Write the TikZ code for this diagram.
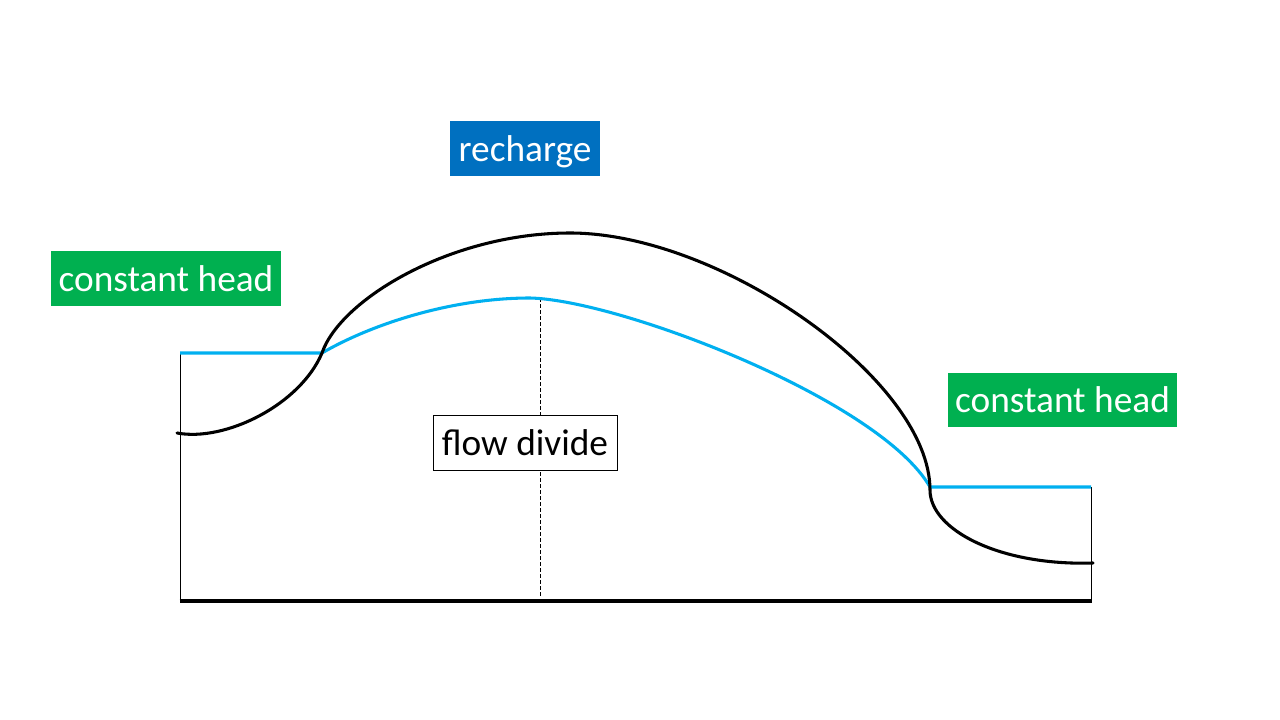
\documentclass[tikz,border=0pt]{standalone}
\usepackage{fontspec}
\setmainfont{Carlito}
\definecolor{chgreen}{HTML}{00B050}
\definecolor{rcblue}{HTML}{0070C0}
\definecolor{wtblue}{HTML}{00B0F0}
\begin{document}
\begin{tikzpicture}[x=0.75pt,y=-0.75pt,
  label box/.style={inner sep=0pt, text depth=0pt, text=white, font=\fontsize{28}{34}\selectfont},
  thin line/.style={line width=0.75pt, black},
  thick curve/.style={line width=2.3pt, black, line cap=round, line join=round},
  water curve/.style={line width=2.3pt, wtblue, line join=round}]
\useasboundingbox (0,0) rectangle (1280,720);
\fill[white] (0,0) rectangle (1280,720);
% frame
\draw[thin line] (180,353) -- (180,601);
\draw[thin line] (1091,487) -- (1091,601);
\draw[line width=2.3pt] (179.5,601) -- (1091.5,601);
% dashed flow divide line
\draw[thin line, dash pattern=on 3pt off 1.5pt] (540,298) -- (540,598);
% water table (blue)
\draw[water curve] (180,353) -- (322,353)
  .. controls (370,325) and (450,298) .. (530,298)
  .. controls (620,300) and (880,400) .. (930,487)
  -- (1091,487);
% land surface (black)
\draw[thick curve] (177,433)
  .. controls (225,442) and (300,405) .. (322,353)
  .. controls (340,300) and (450,233) .. (570,233)
  .. controls (720,233) and (930,380) .. (930,490)
  .. controls (930,530) and (1000,566) .. (1093,563);
% labels
\node[label box, fill=rcblue, minimum width=150*0.75pt, minimum height=55*0.75pt] (recharge) at (525,148.5) {recharge};
\node[label box, fill=chgreen, minimum width=230*0.75pt, minimum height=55*0.75pt] (chleft) at (166,278.5) {constant head};
\node[label box, fill=chgreen, minimum width=229*0.75pt, minimum height=54*0.75pt] (chright) at (1062.5,400) {constant head};
\node[label box, fill=white, draw=black, line width=0.75pt, text=black, minimum width=184*0.75pt, minimum height=55*0.75pt] (divide) at (525,442.5) {flow divide};
\end{tikzpicture}
\end{document}
